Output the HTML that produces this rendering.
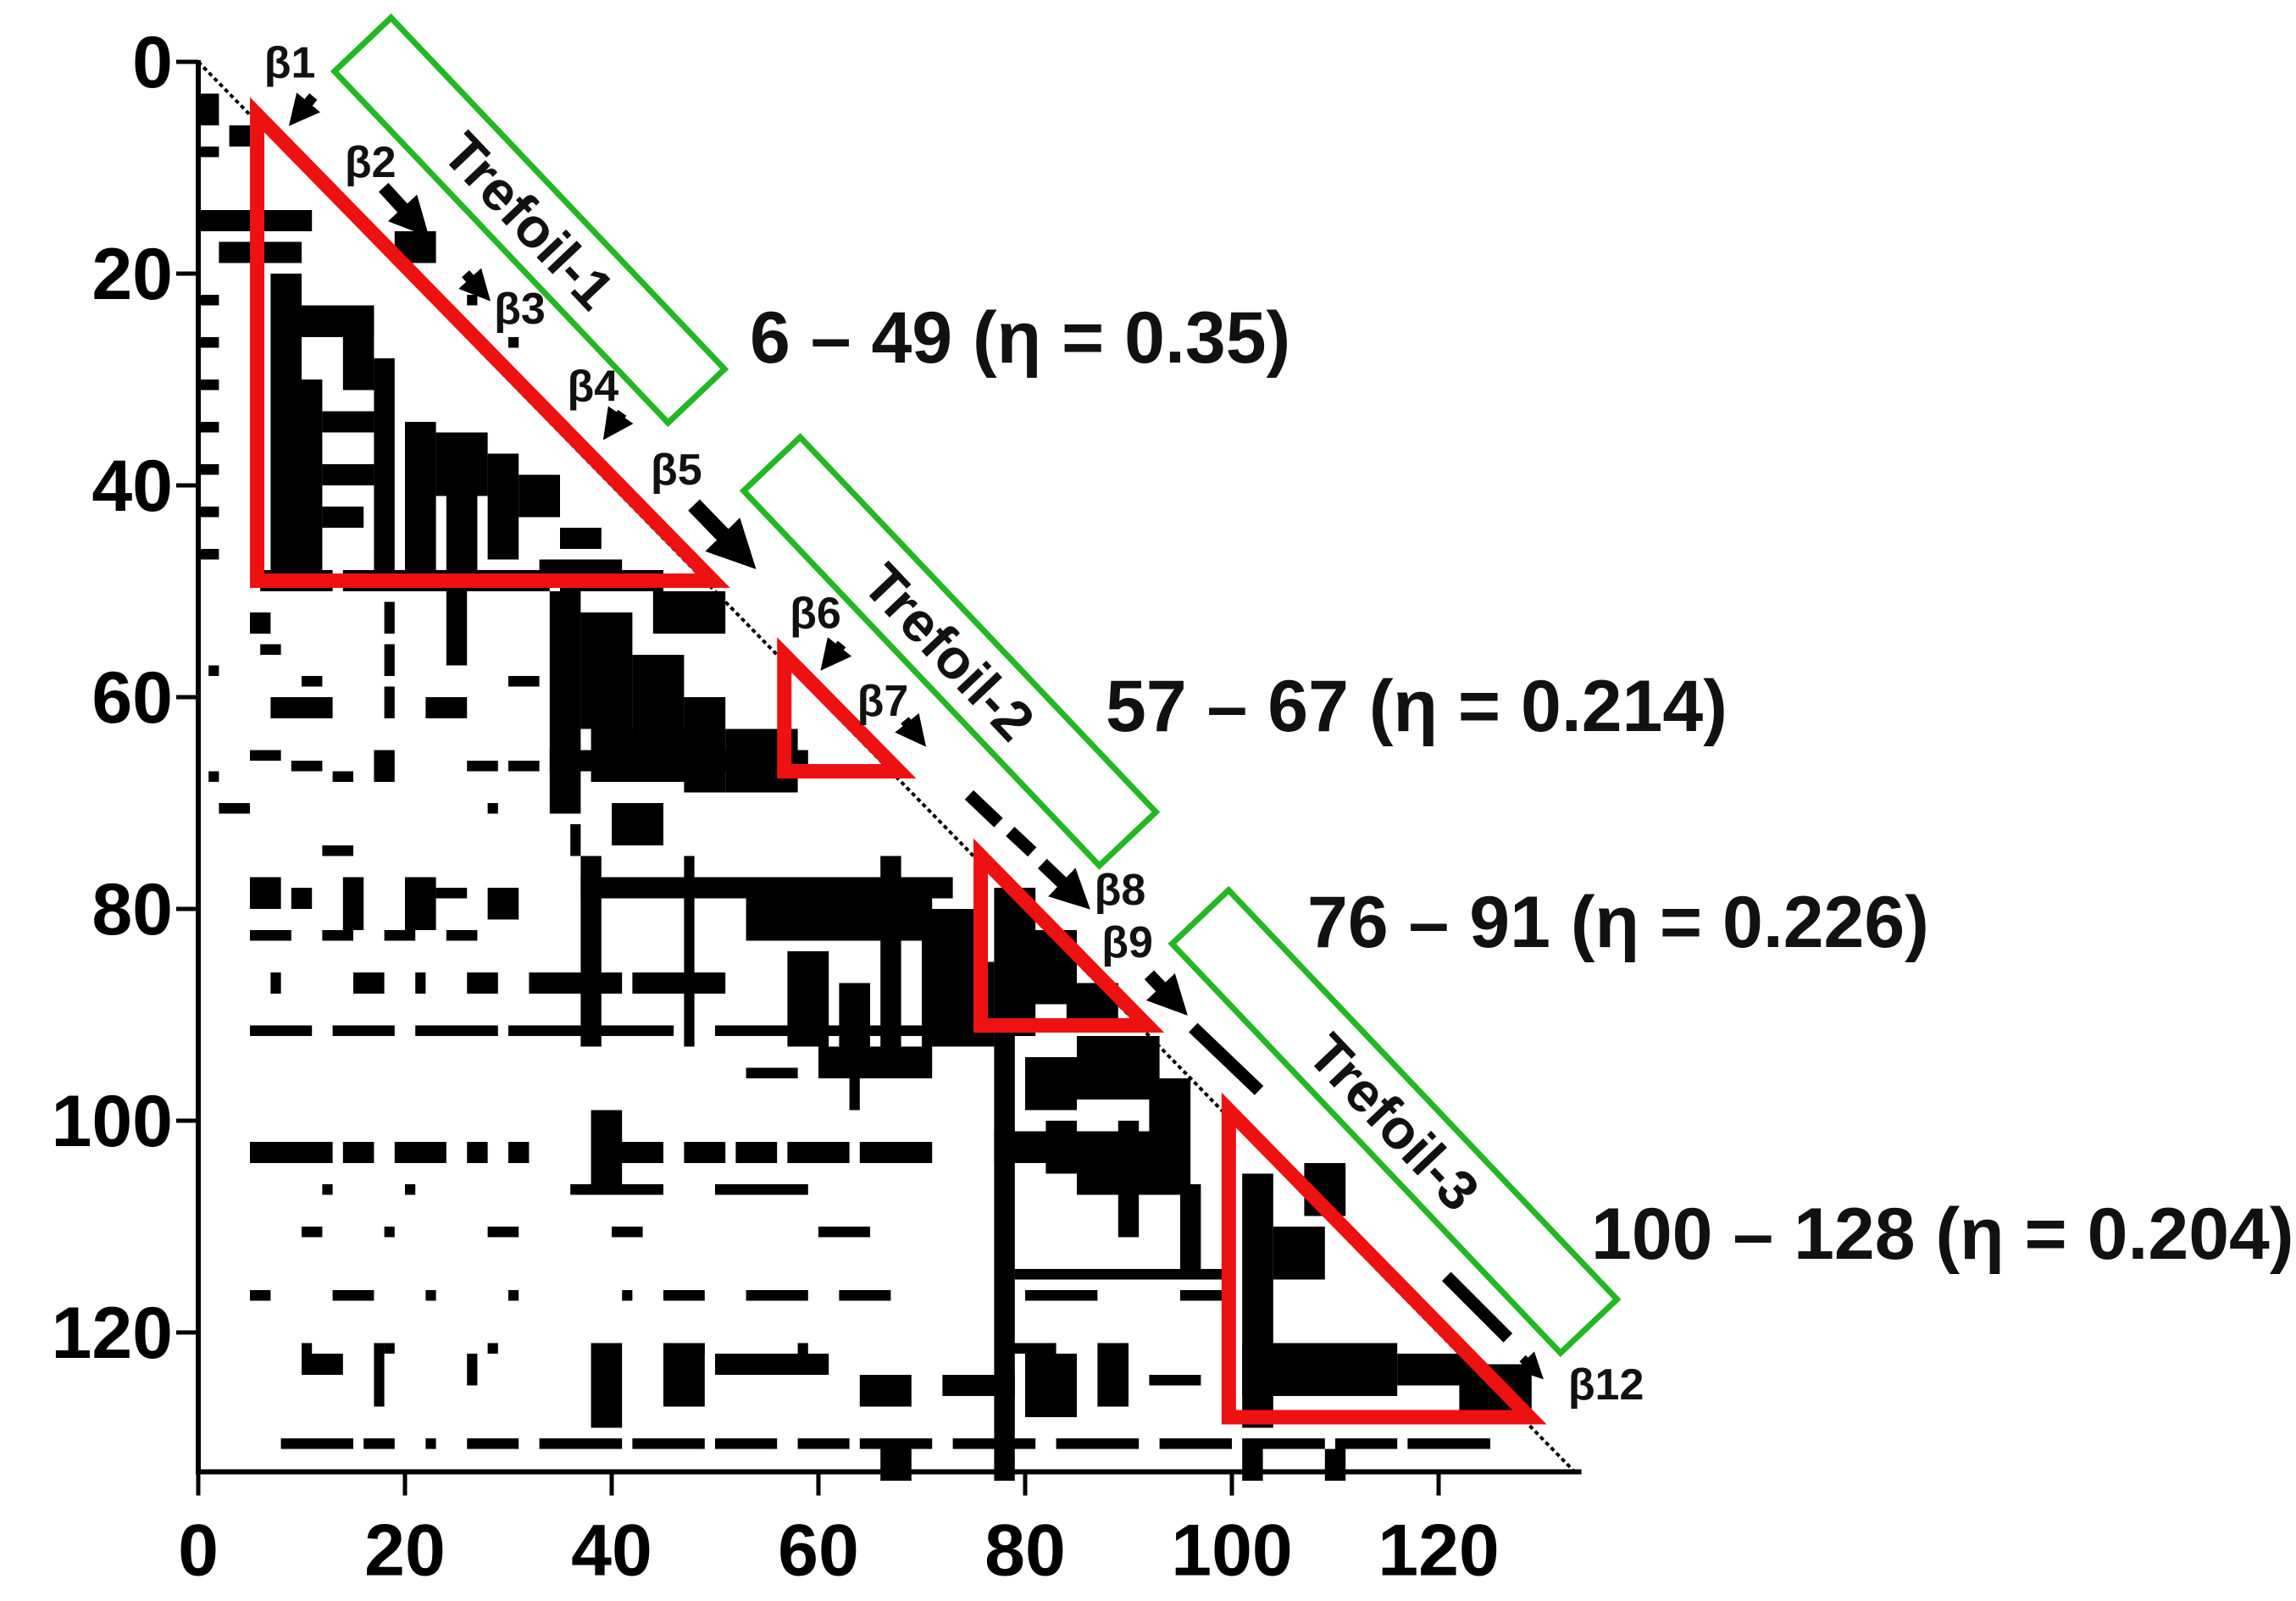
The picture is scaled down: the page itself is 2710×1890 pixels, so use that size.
<!DOCTYPE html>
<html><head><meta charset="utf-8">
<style>
html,body{margin:0;padding:0;background:#fff;}
svg{display:block;font-family:"Liberation Sans",Arial,sans-serif;}
</style></head>
<body>
<svg id="chart" width="2710" height="1890" viewBox="0 0 2710 1890" xmlns="http://www.w3.org/2000/svg">
<g id="cells"></g>
<g id="axes"></g>
<g id="annot"></g>
</svg>
<script>
// ---- data (residue coordinates) ----
const xTicks = [0,20,40,60,80,100,120];
const yTicks = [0,20,40,60,80,100,120];
const nRes = 133;
// contact blocks: inclusive residue ranges
const bx1 = [0,3,0,0,2,0,0,0,0,0,0,0,7,10,8,14,17,12,12,12,20,23,24,28,31,35,33,6,14,22,35,19,26,30,
 34,37,42,47,51,38,34,5,6,10,7,18,18,18,17,5,9,13,22,24,26,30,1,1,30,40,36,2,12,28,44,
 45,53,66,57,47,37,37,70,62,5,9,14,20,23,28,5,12,18,24,7,15,21,26,32,42,5,13,21,30,50,70,
 77,80,84,
 77,80,82,77,89,85,95,79,60,63,53,85,92,5,14,19,26,30,38,40,47,52,57,64,12,20,36,50,10,18,28,40,60,
 5,13,22,30,41,45,53,62,80,95,10,18,28,48,58,78,10,17,26,38,45,50,64,72,80,87,92,
 8,16,22,26,33,42,50,58,64,73,83,93,102,110,117,66,101,109,96,
 101,101,104,116,122,107];
const bx2 = [1,4,1,10,9,1,1,1,1,1,1,1,9,11,16,16,18,16,16,15,22,27,26,30,34,38,40,12,20,33,44,22,26,30,
 36,41,46,50,57,48,58,6,7,11,12,18,18,18,18,7,11,14,25,25,28,32,1,1,32,44,36,4,14,28,50,
 72,70,67,60,47,44,38,76,64,7,10,15,22,25,30,8,14,20,26,7,17,21,28,40,50,10,18,28,45,70,74,
 80,84,88,
 78,84,84,95,90,95,96,99,70,63,57,92,95,12,16,23,27,31,40,44,50,55,62,70,12,20,44,58,11,18,30,42,64,
 6,16,22,30,41,48,58,66,86,99,10,18,28,48,58,82,13,17,26,40,48,60,68,78,84,89,96,
 14,18,22,30,40,48,55,62,70,80,90,97,108,115,124,68,102,110,99,
 103,115,108,122,128,110];
const by1 = [3,6,8,14,17,22,26,30,34,38,42,46,20,30,23,23,28,33,38,42,34,35,40,37,39,44,47,48,48,48,48,16,22,26,
 50,52,56,60,63,63,65,52,55,58,60,51,55,59,65,65,66,67,60,50,66,66,57,67,58,70,72,70,74,70,50,
 77,79,75,84,75,77,75,85,87,77,78,77,77,78,78,82,82,82,82,86,86,86,86,86,86,91,91,91,91,91,80,
 78,82,87,
 92,94,100,101,100,104,106,114,93,96,95,92,96,102,102,102,102,102,99,102,102,102,102,102,106,106,106,106,110,110,110,110,110,
 116,116,116,116,116,116,116,116,116,116,121,121,121,121,121,121,122,121,122,121,121,122,124,124,122,121,124,
 130,130,130,130,130,130,130,130,130,130,130,130,130,130,130,130,130,131,130,
 105,121,110,122,123,104];
const by2 = [5,7,8,15,18,22,26,30,34,38,42,46,49,49,25,30,49,34,39,43,49,40,47,46,42,45,48,49,49,49,49,18,22,26,
 70,62,66,68,68,67,66,53,55,58,61,53,57,61,67,65,66,67,61,56,66,66,57,67,58,73,74,70,74,70,53,
 78,82,92,92,92,78,92,92,92,79,79,81,81,78,80,82,82,82,82,87,87,87,87,87,87,91,91,91,91,91,84,
 91,88,90,
 133,98,104,103,110,106,113,114,95,98,95,97,100,103,103,103,103,103,105,103,103,103,103,103,106,106,106,106,110,110,110,110,110,
 116,116,116,116,116,116,116,116,116,116,121,121,121,121,121,121,123,126,124,128,126,123,126,125,127,126,124,
 130,130,130,130,130,130,130,130,130,130,130,130,130,130,130,133,133,133,130,
 128,125,114,124,127,108];
// highlighted regions (red triangles)
const triStart = [6,57,76,100];
const triEnd = [49,67,91,128];
const triLabels = ["6 \u2013 49 (\u03b7 = 0.35)","57 \u2013 67 (\u03b7 = 0.214)","76 \u2013 91 (\u03b7 = 0.226)","100 \u2013 128 (\u03b7 = 0.204)"];

// ---- scales ----
const X0 = 234, UX = 12.2, Y0 = 73, UY = 12.5;
const xs = v => X0 + v*UX;
const ys = v => Y0 + v*UY;
const NS = "http://www.w3.org/2000/svg";
function mk(tag, attrs, parent){const e=document.createElementNS(NS,tag);for(const k in attrs)e.setAttribute(k,attrs[k]);parent.appendChild(e);return e;}
const cells = document.getElementById('cells');
const axes = document.getElementById('axes');
const annot = document.getElementById('annot');

for(let i=0;i<bx1.length;i++){
  const r = mk('rect',{x:xs(bx1[i]),y:ys(by1[i]),width:(bx2[i]-bx1[i]+1)*UX,height:(by2[i]-by1[i]+1)*UY,fill:'#000'},cells);
  
  
}
// diagonal
const dg = mk('line',{x1:xs(0),y1:ys(0),x2:xs(nRes),y2:ys(nRes),stroke:'#000','stroke-width':4,'stroke-dasharray':'5 4'},cells);



// axes
const ya = mk('line',{x1:xs(0),y1:ys(0)-2,x2:xs(0),y2:ys(nRes)+4,stroke:'#000','stroke-width':6},axes);


const xa = mk('line',{x1:xs(0)-3,y1:ys(nRes)+2,x2:xs(nRes)+10,y2:ys(nRes)+2,stroke:'#000','stroke-width':6},axes);


yTicks.forEach(t=>{
  const l = mk('line',{x1:xs(0)-26,y1:ys(t),x2:xs(0),y2:ys(t),stroke:'#000','stroke-width':5},axes);
  
  
  const tx = mk('text',{x:204,y:ys(t)+30,'text-anchor':'end','font-size':86,'font-weight':'bold',fill:'#000'},axes);
  tx.textContent = t;
  
  
});
xTicks.forEach(t=>{
  const l = mk('line',{x1:xs(t),y1:ys(nRes)+2,x2:xs(t),y2:ys(nRes)+30,stroke:'#000','stroke-width':5},axes);
  
  
  const tx = mk('text',{x:xs(t),y:ys(nRes)+124,'text-anchor':'middle','font-size':86,'font-weight':'bold',fill:'#000'},axes);
  tx.textContent = t;
  
  
});

// red triangles + labels
const labelPos = [[885,428],[1305,863],[1543,1118],[1878,1486]];
triStart.forEach((s,i)=>{
  const e = triEnd[i];
  const pts = [[xs(s-0.3),ys(s-1)],[xs(s-0.3),ys(e)],[xs(e+0.8),ys(e)]].map(p=>p.join(',')).join(' ');
  const p = mk('polygon',{points:pts,fill:'none',stroke:'#ee1111','stroke-width':17,'stroke-linejoin':'miter'},annot);
  
  
  const t = mk('text',{x:labelPos[i][0],y:labelPos[i][1],'font-size':86,'font-weight':'bold',fill:'#111'},annot);
  t.textContent = triLabels[i];
  
  
});

// green trefoil boxes
const K = 1.728;
const tref = [[625,260,572,'Trefoil-1'],[1121,769,610,'Trefoil-2'],[1646,1324,666,'Trefoil-3']];
tref.forEach(tb=>{
  const g = mk('g',{transform:`translate(${tb[0]},${tb[1]}) rotate(46.5)`},annot);
  
  
  mk('rect',{x:-tb[2]/2,y:-46,width:tb[2],height:92,fill:'none',stroke:'#22b822','stroke-width':7},g);
  const t = mk('text',{x:0,y:24,'text-anchor':'middle','font-size':66,'font-weight':'bold',fill:'#111'},g);
  t.textContent = tb[3];
  
  
});

// beta labels (display coords * K)
const betas = [['β1',198,53],['β2',253,121],['β3',355,221],['β4',405,274],['β5',462,331],['β6',557,429],['β7',603,489],['β8',765,618],['β9',770,654],['β12',1097,956]];
betas.forEach(b=>{
  const t = mk('text',{x:b[1]*K,y:b[2]*K,'text-anchor':'middle','font-size':52,'font-weight':'bold',fill:'#111'},annot);
  t.textContent = b[0];
  
  
});

// arrows (display coords)
const defs = mk('defs',{},annot);
const mkr = mk('marker',{id:'ah',markerWidth:3,markerHeight:3,refX:1.5,refY:1.5,orient:'auto',markerUnits:'strokeWidth'},defs);
mk('path',{d:'M0,0 L3,1.5 L0,3 z',fill:'#000'},mkr);
const arrows = [
 [214,66,204,78,7],[262,128,284,152,9],[318,187,328,198,7],[425,282,418,292,7],
 [474,345,505,377,11],[575,440,567,450,7],[618,492,626,502,7],
 [712,590,735,612,9],[785,666,802,684,9],[1040,928,1048,936,6]];
arrows.forEach(a=>{
  const l = mk('line',{x1:a[0]*K,y1:a[1]*K,x2:a[2]*K,y2:a[3]*K,stroke:'#000','stroke-width':a[4]*K,'marker-end':'url(#ah)'},annot);
  
  
});
const dashes = [[662,543,682,562],[690,568,705,582],[815,702,860,745],[988,872,1030,914]];
dashes.forEach(d=>{
  const l = mk('line',{x1:d[0]*K,y1:d[1]*K,x2:d[2]*K,y2:d[3]*K,stroke:'#000','stroke-width':15},annot);
  
  
});
</script>
</body></html>
